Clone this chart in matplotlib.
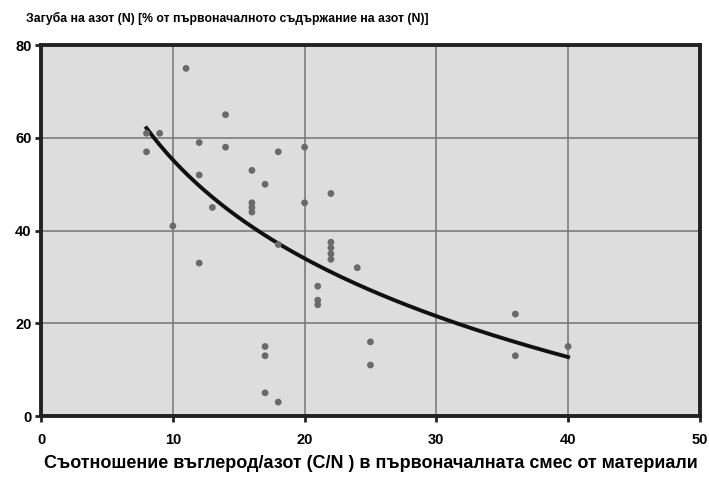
import numpy as np
import matplotlib.pyplot as plt

# Данни: съотношение C/N и загуба на азот (%)
cn = [8, 8, 9, 10, 11, 12, 12, 12, 13, 14, 14, 16, 16, 16, 16, 17, 17, 17, 17,
      18, 18, 18, 20, 20, 21, 21, 21, 22, 22, 22, 22, 22, 24, 25, 25, 36, 36, 40]
n_loss = [57, 61, 61, 41, 75, 59, 52, 33, 45, 65, 58, 53, 46, 45, 44, 50, 15, 13, 5,
          57, 37, 3, 58, 46, 28, 25, 24, 48, 37.5, 36.3, 35, 33.8, 32, 16, 11, 22, 13, 15]

x_ticks = [0, 10, 20, 30, 40, 50]
y_ticks = [0, 20, 40, 60, 80]

plt.rcParams['font.family'] = ['Liberation Sans', 'DejaVu Sans']
plt.rcParams['font.weight'] = 'bold'

fig = plt.figure(figsize=(7.09, 4.86), dpi=100)
ax = fig.add_axes([0.058, 0.144, 0.929, 0.763])
ax.set_facecolor('#dddddd')

# логаритмична линия на тренда (като в Excel)
b, a = np.polyfit(np.log(cn), n_loss, 1)
xs = np.linspace(min(cn), max(cn), 200)
ax.plot(xs, a + b * np.log(xs), color='#111111', lw=2.8, zorder=3)

ax.scatter(cn, n_loss, s=24, color='#6a6a6a', edgecolors='none', zorder=4)

ax.set_xlim(0, 50)
ax.set_ylim(0, 80)
ax.set_xticks(x_ticks)
ax.set_yticks(y_ticks)
ax.grid(True, color='#747474', lw=1.1)
ax.set_axisbelow(True)
for s in ax.spines.values():
    s.set_linewidth(2.8)
    s.set_color('#222222')
ax.tick_params(direction='out', length=4, width=2, color='#222222',
               labelsize=10.5, pad=3)
ax.tick_params(axis='x', pad=8)

fig.text(0.036, 0.962, 'Загуба на азот (N) [% от първоначалното съдържание на азот (N)]',
         fontsize=8.8, fontweight='bold', va='center', ha='left')
ax.set_xlabel('Съотношение въглерод/азот (C/N ) в първоначалната смес от материали',
              fontsize=13, fontweight='bold', labelpad=6)

fig.savefig('out.png', dpi=100)
